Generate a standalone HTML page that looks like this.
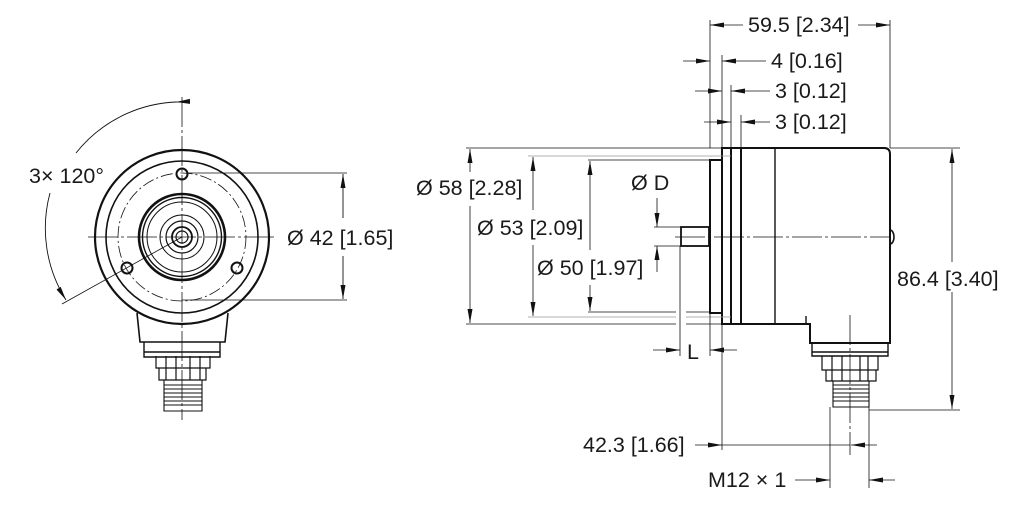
<!DOCTYPE html>
<html><head><meta charset="utf-8"><style>
html,body{margin:0;padding:0;background:#fff}
svg{display:block}
text{font-family:"Liberation Sans",sans-serif;font-size:21.5px;fill:#1a1a1a}
</style></head><body>
<svg width="1022" height="511" viewBox="0 0 1022 511" xmlns="http://www.w3.org/2000/svg">
<defs>
<marker id="a" viewBox="0 0 14 6" refX="14" refY="3" markerWidth="14" markerHeight="6" markerUnits="userSpaceOnUse" orient="auto"><path d="M0,0.5 L14,3 L0,5.5 Z" fill="#111"/></marker>
</defs>
<g fill="none" stroke="#111">
<g stroke-width="2.2">
<circle cx="182" cy="237" r="87"/>
<circle cx="182" cy="237" r="76" stroke-width="1.6"/>
<circle cx="182" cy="237" r="43" stroke-width="2.6"/>
<circle cx="182" cy="237" r="39.5" stroke-width="1.4"/>
<circle cx="182" cy="237" r="35" stroke-width="1"/>
<circle cx="182" cy="237" r="22" stroke-width="1"/>
<circle cx="182" cy="237" r="16" stroke-width="1.2"/>
<circle cx="182" cy="237" r="10" stroke-width="1.8"/>
<circle cx="182" cy="237" r="6" stroke-width="1.2"/>
<circle cx="182" cy="174" r="5.5" stroke-width="2"/>
<circle cx="127" cy="268" r="5.5" stroke-width="2"/>
<circle cx="237" cy="268" r="5.5" stroke-width="2"/>
</g>
<circle cx="182" cy="237" r="64" stroke-width="0.8" stroke-dasharray="12,3,2,3"/>
<path d="M137,313 L140,342 L225,342 L228,313" stroke-width="1.6"/>
<path d="M144,342 L144,357 L220,357 L220,342 M144,352 L220,352" stroke-width="1.4"/>
<path d="M156,356 L156,368 L210,368 L210,356 M159,368 L159,380 L206,380 L206,368 M166,356 V380 M176,356 V380 M190,356 V380 M200,356 V380" stroke-width="1.2"/>
<path d="M164,380 L164,411 L202,411 L202,380 M164,385 H202 M164,389 H202 M164,393 H202 M164,397 H202 M164,401 H202 M164,405 H202" stroke-width="1.1"/>
<path d="M182,97 L182,420" stroke-width="0.8" stroke-dasharray="30,3,3,3"/>
<path d="M88,237 L275,237" stroke-width="0.8" stroke-dasharray="30,3,3,3"/>
<path d="M182,237 L62,304" stroke-width="0.8"/>
<path d="M176,102 A135,135 0 0 0 76,153" stroke-width="0.9" marker-start="url(#a)"/>
<path d="M50,193 A135,135 0 0 0 66,300" stroke-width="0.9" marker-end="url(#a)"/>
<path d="M176,102 L182,102" stroke-width="0.9"/>
<path d="M188,173 L347,173 M182,300 L347,300" stroke-width="0.8"/>
<path d="M343,218 L343,174" stroke-width="0.9" marker-end="url(#a)"/>
<path d="M343,256 L343,299" stroke-width="0.9" marker-end="url(#a)"/>

<g stroke-width="2">
<rect x="710" y="160" width="12" height="153"/>
<rect x="722" y="148" width="9" height="176"/>
<rect x="731" y="148" width="10" height="176"/>
<path d="M741,148 L884,148 Q890,148 890,154 L890,343 L810,343 L810,324 L741,324"/>
<path d="M775,148 V324" stroke-width="1.4"/>
<path d="M890,230 A4,7 0 0 1 890,244" stroke-width="1.6"/>
<rect x="681" y="227" width="28" height="19" stroke-width="1.8"/>
<path d="M806,324 V316" stroke-width="1.4"/>
</g>
<path d="M812,343 L812,356 L888,356 L888,343 M812,352 H888" stroke-width="1.4"/>
<path d="M822,356 L822,370 L878,370 L878,356 M826,370 L826,381 L876,381 L876,370 M832,356 V381 M842,356 V381 M860,356 V381 M868,356 V381" stroke-width="1.2"/>
<path d="M833,381 L833,407 L869,407 L869,381 M833,385 H869 M833,389 H869 M833,393 H869 M833,397 H869 M833,401 H869" stroke-width="1.1"/>
<path d="M675,237 L890,237" stroke-width="0.8" stroke-dasharray="30,3,3,3"/>
<path d="M850,315 L850,455" stroke-width="0.8" stroke-dasharray="30,3,3,3"/>
<g stroke-width="0.8">
<path d="M710,20 V148 M722,55 V148 M731,85 V148 M741,115 V148 M890,20 V148"/>
<path d="M743,25 L710,25" marker-end="url(#a)"/><path d="M858,25 L890,25" marker-end="url(#a)"/>
<path d="M683,61 L710,61" marker-end="url(#a)"/><path d="M766,61 L722,61" marker-end="url(#a)"/>
<path d="M695,91 L722,91" marker-end="url(#a)"/><path d="M770,91 L731,91" marker-end="url(#a)"/>
<path d="M704,122 L731,122" marker-end="url(#a)"/><path d="M770,122 L741,122" marker-end="url(#a)"/>
<path d="M466,148 L722,148 M466,324 L676,324 M686,324 L722,324"/>
<path d="M528,156 L731,156 M528,317 L676,317 M686,317 L731,317" stroke="#999"/>
<path d="M588,160 L710,160 M588,312 L676,312 M686,312 L710,312"/>
<path d="M470,172 L470,149" marker-end="url(#a)"/><path d="M470,206 L470,323" marker-end="url(#a)"/>
<path d="M533,210 L533,157" marker-end="url(#a)"/><path d="M533,245 L533,316" marker-end="url(#a)"/>
<path d="M590,250 L590,161" marker-end="url(#a)"/><path d="M590,285 L590,311" marker-end="url(#a)"/>
<path d="M657,198 L657,227" marker-end="url(#a)"/><path d="M657,272 L657,246" marker-end="url(#a)"/>
<path d="M654,227 H681 M654,246 H681"/>
<path d="M680,246 V356 M710,313 V356 M722,324 V450"/>
<path d="M653,350 L680,350" marker-end="url(#a)"/><path d="M737,350 L710,350" marker-end="url(#a)"/>
<path d="M695,445 L722,445" marker-end="url(#a)"/><path d="M722,445 L850,445"/>
<path d="M877,445 L851,445" marker-end="url(#a)"/>
<path d="M830,407 V488 M869,407 V488"/>
<path d="M795,480 L830,480" marker-end="url(#a)"/><path d="M895,480 L869,480" marker-end="url(#a)"/>
<path d="M890,148 L960,148 M869,410 L960,410"/>
<path d="M952,262 L952,149" marker-end="url(#a)"/><path d="M952,292 L952,409" marker-end="url(#a)"/>
</g>
</g>
<text x="29" y="183">3× 120°</text>
<text x="287" y="245">Ø 42 [1.65]</text>
<text x="748" y="32">59.5 [2.34]</text>
<text x="771" y="68">4 [0.16]</text>
<text x="775" y="98">3 [0.12]</text>
<text x="775" y="129">3 [0.12]</text>
<text x="416" y="195">Ø 58 [2.28]</text>
<text x="477" y="235">Ø 53 [2.09]</text>
<text x="537" y="275">Ø 50 [1.97]</text>
<text x="631" y="190">Ø D</text>
<text x="687" y="359">L</text>
<text x="583" y="452">42.3 [1.66]</text>
<text x="708" y="487">M12 × 1</text>
<text x="897" y="286">86.4 [3.40]</text>
</svg>
</body></html>
